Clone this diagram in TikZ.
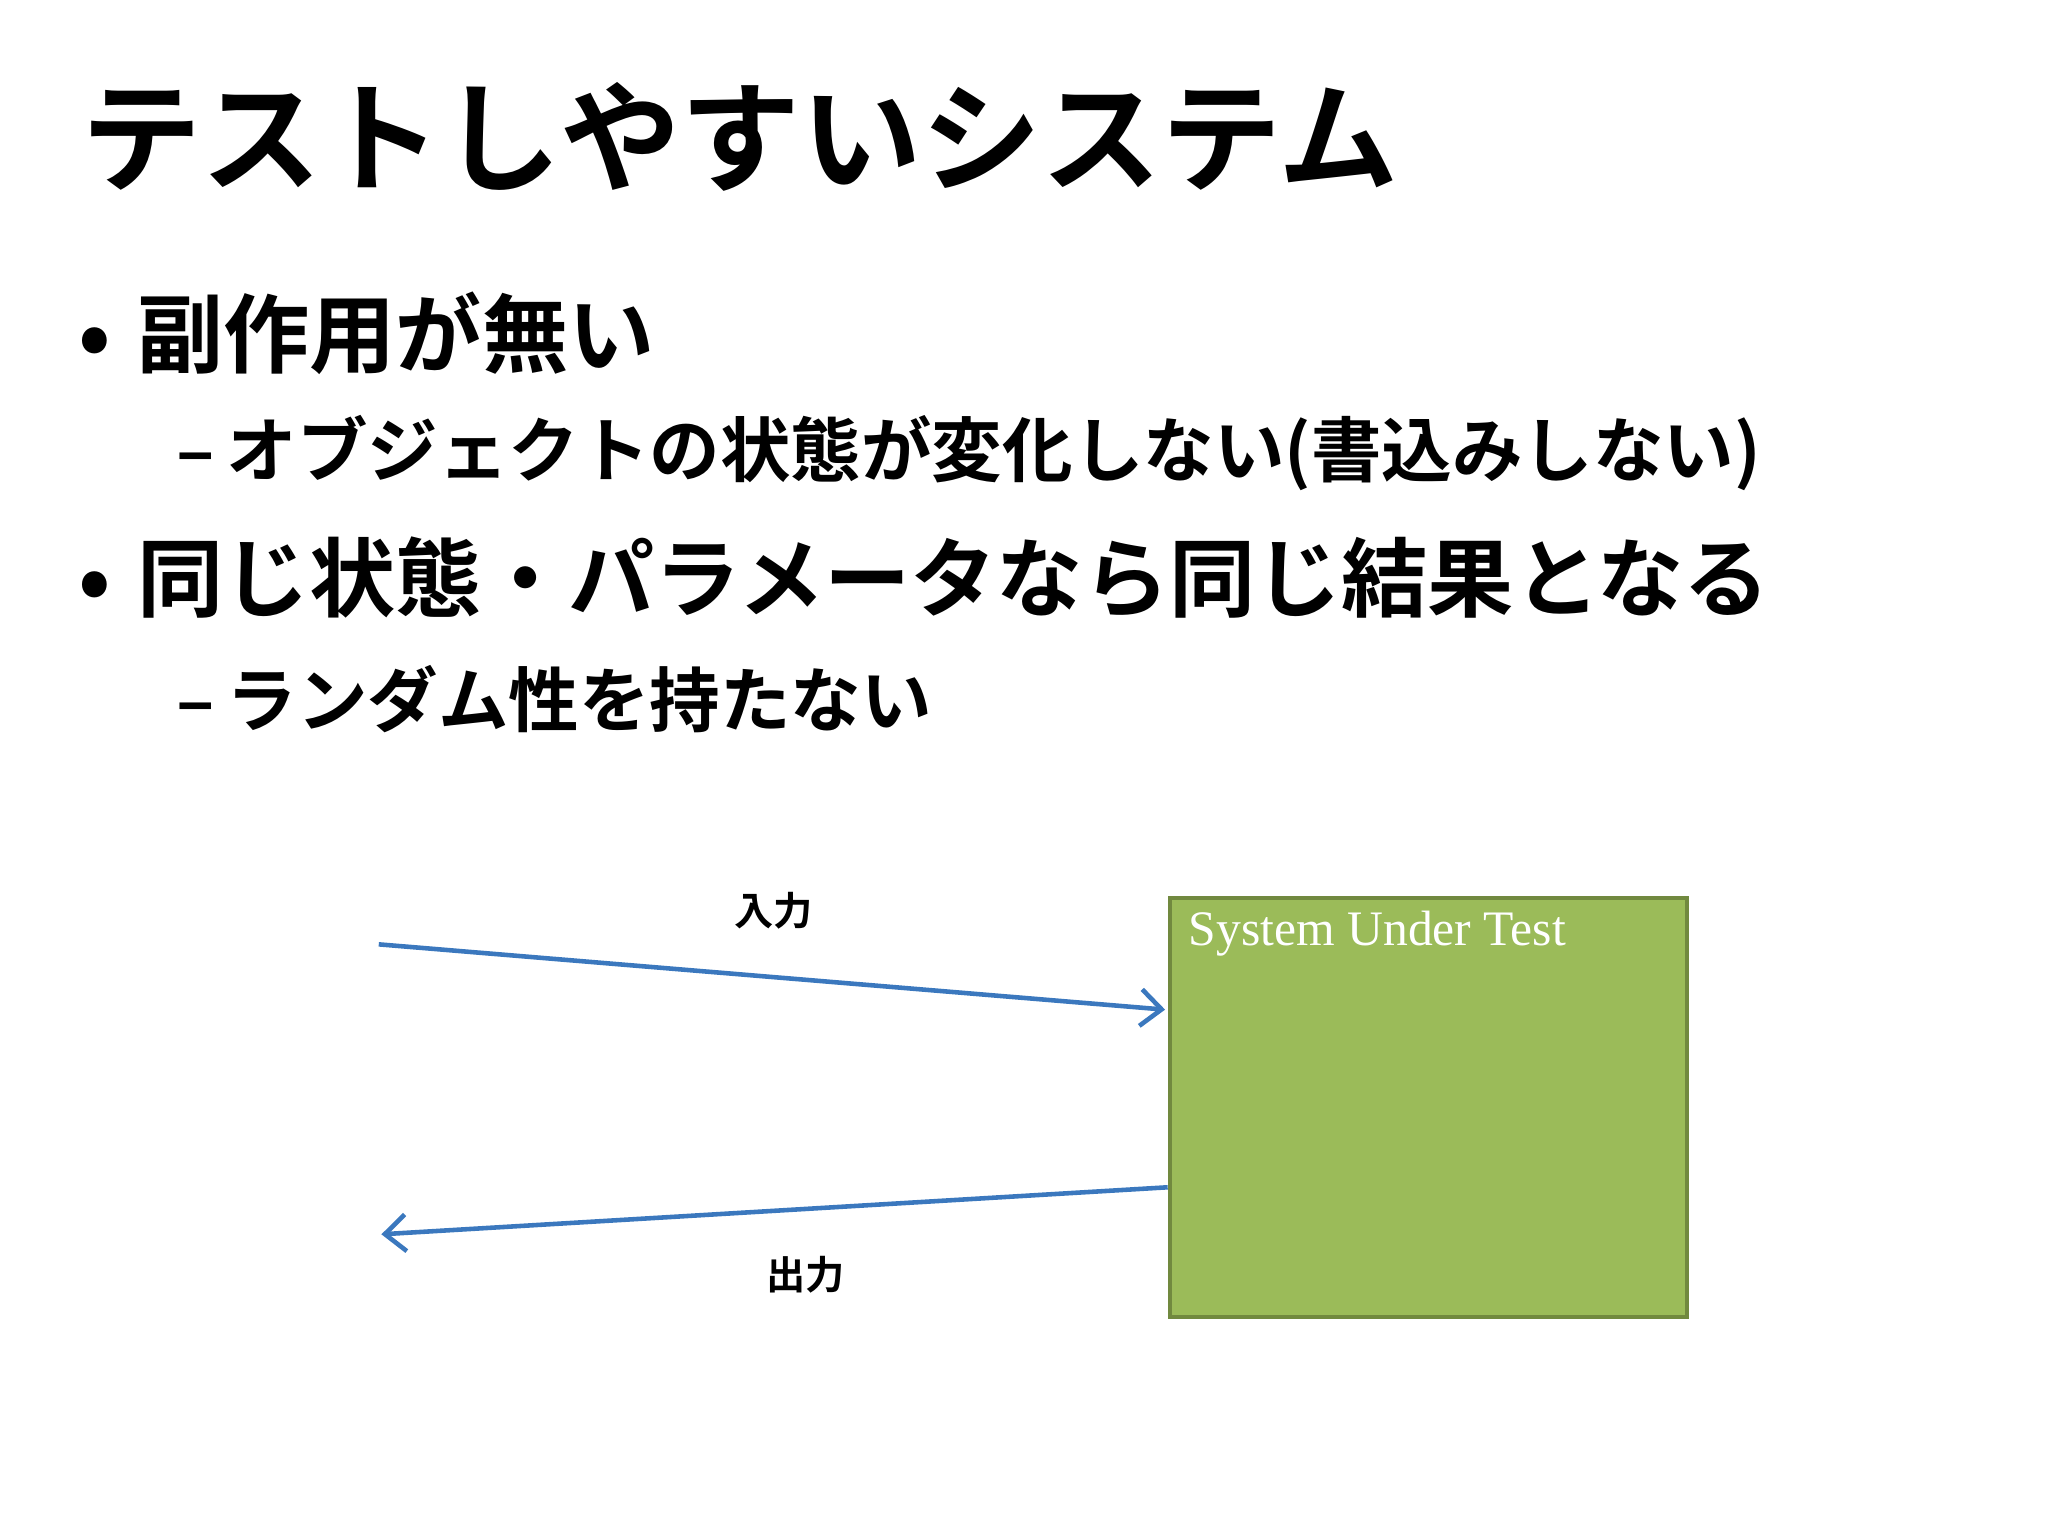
\documentclass[tikz,border=0pt]{standalone}
\usepackage{fontspec}
\newfontfamily\jp{Noto Sans CJK JP Bold}
\setmainfont{Liberation Serif}
\usetikzlibrary{arrows.meta}
\definecolor{arr}{HTML}{3B78BE}
\definecolor{boxfill}{HTML}{9BBB59}
\definecolor{boxline}{HTML}{71893F}
\tikzset{
  txt/.style={anchor=west,inner sep=0pt,text=black},
  conn/.style={draw=arr,line width=3.5pt,-{Straight Barb[length=16pt,width=28pt,line width=3.5pt]}},
  lbl/.style={inner sep=0pt,font=\jp\fontsize{30}{32}\selectfont},
}
\begin{document}
\begin{tikzpicture}[x=1pt,y=-1pt]
\useasboundingbox[fill=white] (0,0) rectangle (1568,1176);
\node[txt,font=\jp\fontsize{92}{96}\selectfont] (title) at (62,105) {テストしやすいシステム};
\node[txt,font=\jp\fontsize{66}{70}\selectfont] (b1) at (60,255) {•\hspace{20pt}副作用が無い};
\node[txt,font=\jp\fontsize{54}{58}\selectfont] (s1) at (135,347) {–\,オブジェクトの状態が変化しない(書込みしない)};
\node[txt,font=\jp\fontsize{66}{70}\selectfont] (b2) at (60,442) {•\hspace{20pt}同じ状態・パラメータなら同じ結果となる};
\node[txt,font=\jp\fontsize{54}{58}\selectfont] (s2) at (135,535) {–\,ランダム性を持たない};
\node[draw=boxline,line width=3pt,fill=boxfill,minimum width=396pt,minimum height=321pt,anchor=north west] (sut) at (894,686) {};
\node[anchor=north west,inner sep=0pt,text=white,font=\fontsize{38}{40}\selectfont] (sutl) at (910,697) {System Under Test};
\coordinate (inS) at (290,723);
\coordinate (inE) at (892,773);
\coordinate (outS) at (894,909);
\coordinate (outE) at (292,945);
\draw[conn] (inS) -- (inE);
\draw[conn] (outS) -- (outE);
\node[lbl] (inl) at (592,697) {入力};
\node[lbl] (outl) at (617,976) {出力};
\end{tikzpicture}
\end{document}
